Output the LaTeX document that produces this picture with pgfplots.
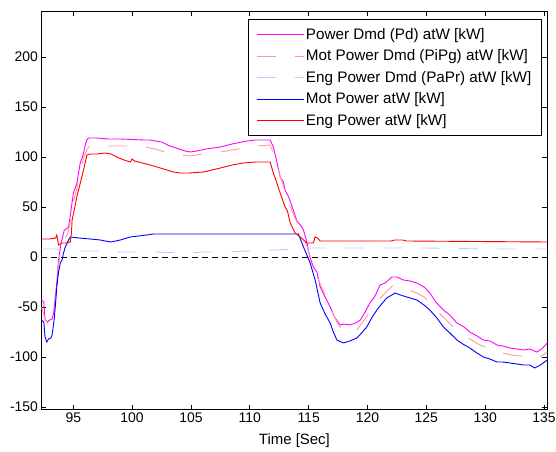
\documentclass[border=0pt]{standalone}
\usepackage{fontspec}
\setmainfont{Liberation Sans}
\usepackage{pgfplots}
\pgfplotsset{compat=1.18}
\definecolor{pdmag}{rgb}{1,0,1}
\definecolor{pipg}{rgb}{1,0.6,0.6}
\definecolor{papr}{rgb}{0.7,0.82,0.95}
\begin{document}
\begin{tikzpicture}
\path[use as bounding box] (-41.5bp,-42.5bp) rectangle (514.5bp,409.5bp);
\begin{axis}[
  scale only axis,
  width=505.8bp, height=398.5bp,
  xmin=92.3, xmax=135.28,
  ymin=-152.5, ymax=246,
  xtick={95,100,...,135},
  ytick={-150,-100,...,200},
  tick align=inside,
  major tick length=5bp,
  axis line style={line width=0.9bp},
  every tick/.style={black, line width=0.7bp},
  /pgf/number format/assume math mode=true,
  tick label style={font=\fontsize{14}{16}\selectfont},
  label style={font=\fontsize{15}{17}\selectfont},
  xlabel={Time [Sec]},
  xlabel style={yshift=-4bp},
  legend style={at={(0.989,0.979)}, anchor=north east, draw=black, line width=0.9bp,
    font=\fontsize{15.3}{17}\selectfont, cells={anchor=west}, row sep=5bp,
    inner xsep=8bp, inner ysep=6.5bp},
  legend image code/.code={\draw[#1] (0bp,0bp) -- (47bp,0bp);},
  every axis plot/.append style={line width=0.9bp},
]
\addplot[pdmag] coordinates {
(92.3,-43) (92.5,-45) (92.6,-62) (92.8,-65) (93.0,-63) (93.2,-62) (93.33,-56) (93.45,-43) (93.62,-23) (93.75,-3) (93.96,14) (94.1,20) (94.24,27) (94.4,28) (94.6,30) (94.75,42) (94.89,54) (95.03,65) (95.15,68) (95.31,74) (95.45,84) (95.59,94) (95.75,99) (95.87,104) (96.02,112) (96.15,117) (96.3,119) (97,119) (98,118) (99,118) (100,117.5) (101,117) (101.5,117) (102.5,115) (103.2,111) (104,108) (104.5,106) (104.94,105) (105.5,106) (106.3,108) (107.5,110) (108.5,113) (109.75,116) (110.5,117) (111.73,117) (112,110) (112.3,95) (112.58,80) (112.86,75) (113,67) (113.3,60) (113.7,47) (114,36) (114.3,32) (114.56,27) (114.85,15) (115.1,0) (115.4,-10) (115.7,-15) (115.98,-30) (116.4,-40) (116.83,-50) (117.2,-60) (117.67,-68) (118,-67) (118.5,-68) (119,-66) (119.4,-63) (119.8,-55) (120.2,-46) (120.6,-40) (121.07,-28) (121.5,-26) (122.07,-20) (122.5,-20) (123.05,-23) (123.6,-24) (124.19,-26) (124.8,-30) (125.3,-36) (125.8,-45) (126.45,-53) (127,-58) (127.6,-66) (128.2,-70) (128.7,-75) (129.3,-79) (129.85,-83) (130.4,-84) (131,-88) (131.5,-89) (132.1,-91) (132.7,-92) (133.24,-93) (133.8,-92) (134.38,-95) (134.8,-92) (135.28,-86)
};
\addlegendentry{Power Dmd (Pd) atW [kW]}
\addplot[pipg, dash pattern=on 19bp off 19bp] coordinates {
(92.3,-50) (92.6,-62) (92.9,-68) (93.1,-70) (93.3,-65) (93.45,-50) (93.6,-30) (93.75,-8) (93.95,8) (94.2,18) (94.5,22) (94.75,35) (95.0,55) (95.3,68) (95.6,85) (95.9,100) (96.2,108) (96.4,111) (98,111) (100,111) (101,110) (102,108) (103,104) (104,102) (105,101) (106,103) (107.5,105) (109,108) (110.5,111) (111.73,112) (112,104) (112.3,92) (112.6,80) (113,65) (113.4,52) (113.8,40) (114.2,30) (114.6,20) (115,5) (115.4,-8) (115.8,-22) (116.4,-38) (116.9,-52) (117.4,-65) (118,-76) (118.5,-75) (119.1,-73) (119.6,-65) (120.2,-55) (120.8,-45) (121.5,-36) (122.2,-28) (122.8,-29) (123.5,-33) (124.2,-36) (124.8,-40) (125.3,-45) (126,-55) (126.6,-62) (127.3,-70) (128,-76) (128.7,-82) (129.4,-87) (130,-90) (130.8,-95) (131.5,-96) (132.2,-98) (133,-99) (133.8,-100) (134.4,-102) (135.28,-95)
};
\addlegendentry{Mot Power Dmd (PiPg) atW [kW]}
\addplot[papr, dash pattern=on 19bp off 19bp] coordinates {
(92.3,8) (93.5,8) (94.0,7) (95,6) (97,6) (99,5) (100,5) (102,5) (104,4) (105,4) (106,5) (108,5) (110,6) (112,7) (114,8) (115,9) (116,9) (120,9) (125,9) (130,8) (135.28,8)
};
\addlegendentry{Eng Power Dmd (PaPr) atW [kW]}
\addplot[blue] coordinates {
(92.3,-63) (92.5,-65) (92.6,-80) (92.75,-85) (92.9,-82) (93.1,-81) (93.2,-78) (93.35,-65) (93.47,-50) (93.6,-30) (93.75,-15) (93.9,-6) (94.05,-3) (94.15,3) (94.32,10) (94.6,17) (94.75,20) (95.5,19) (96.44,18) (97.3,17) (98.14,15) (98.6,16) (99,17) (99.84,20) (101.26,22) (101.8,23) (114.13,23) (114.56,10) (114.85,2) (115.13,-6) (115.55,-23) (115.98,-46) (116.4,-57) (116.83,-66) (117.1,-75) (117.4,-83) (117.96,-86) (118.5,-84) (119.1,-81) (119.5,-76) (119.94,-70) (120.4,-60) (120.8,-53) (121.2,-47) (121.64,-41) (122.35,-36) (122.8,-38) (123.34,-40) (124.2,-43) (124.8,-48) (125.3,-53) (125.9,-61) (126.45,-70) (127,-76) (127.6,-83) (128.1,-87) (128.7,-91) (129.3,-96) (129.85,-100) (130.4,-102) (131,-105) (131.5,-105) (132.1,-106) (132.7,-107) (133.24,-108) (133.8,-108) (134.2,-111) (134.7,-108) (135.28,-103)
};
\addlegendentry{Mot Power atW [kW]}
\addplot[red] coordinates {
(92.3,18) (93.0,18) (93.5,19) (93.6,22) (93.7,15) (93.75,12) (94.0,14) (94.4,14) (94.75,15) (94.85,25) (94.9,37) (95.03,44) (95.3,60) (95.6,74) (95.87,87) (96.16,102) (96.44,103) (97,103) (97.7,104) (98.2,103) (98.7,100) (99.3,97) (99.84,95) (100.0,98) (100.2,96) (101.54,92) (102.96,87) (103.5,85) (104.09,84) (104.8,84) (106.07,85) (107.5,89) (108.5,92) (109.46,94) (110.5,95) (111.73,95) (112,84) (112.3,74) (112.58,64) (113,50) (113.2,46) (113.43,34) (113.85,24) (114.28,20) (114.85,14) (115.4,14) (115.55,20) (115.75,19) (115.98,16) (122,16) (122.3,17) (123,17) (123.3,16) (135.28,15)
};
\addlegendentry{Eng Power atW [kW]}
\addplot[black, line width=0.8bp, dash pattern=on 6bp off 4bp, forget plot] coordinates {(92.3,0) (135.28,0)};
\end{axis}
\end{tikzpicture}
\end{document}
